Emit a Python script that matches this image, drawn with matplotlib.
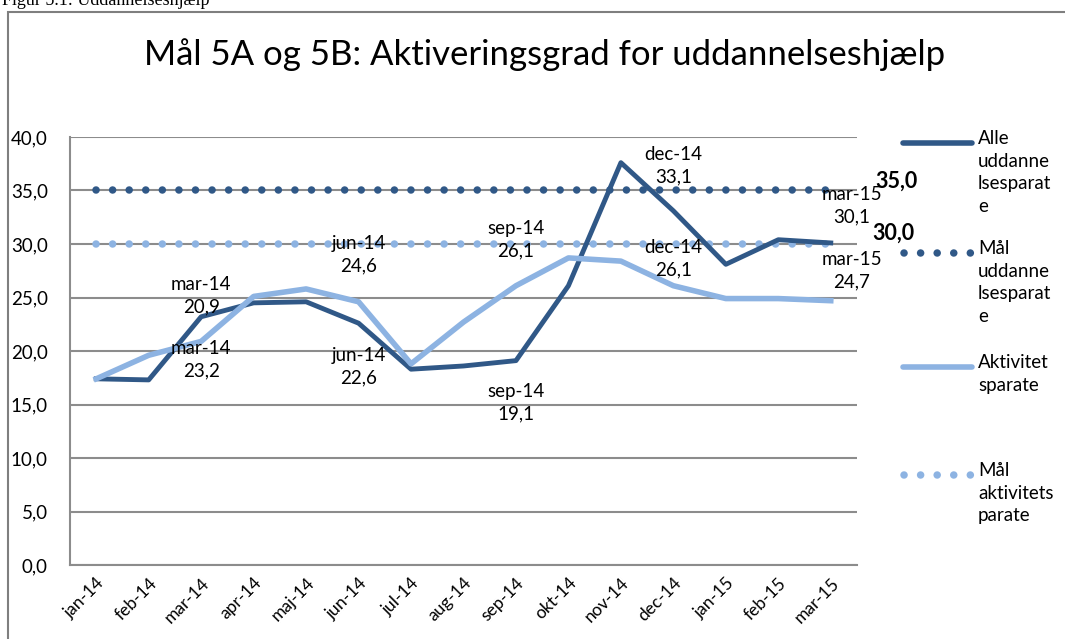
import numpy as np
import matplotlib.pyplot as plt
from matplotlib.lines import Line2D
from matplotlib.patches import Rectangle

# Data
months = ['jan-14', 'feb-14', 'mar-14', 'apr-14', 'maj-14', 'jun-14', 'jul-14',
          'aug-14', 'sep-14', 'okt-14', 'nov-14', 'dec-14', 'jan-15', 'feb-15', 'mar-15']
alle_uddannelsesparate = [17.4, 17.3, 23.2, 24.5, 24.6, 22.6, 18.3, 18.6, 19.1,
                          26.1, 37.6, 33.1, 28.1, 30.4, 30.1]
aktivitetsparate = [17.4, 19.6, 20.9, 25.1, 25.8, 24.6, 18.8, 22.7, 26.1,
                    28.7, 28.4, 26.1, 24.9, 24.9, 24.7]
maal_uddannelsesparate = [35.0] * len(months)
maal_aktivitetsparate = [30.0] * len(months)

series_names = ['Alle\nuddanne\nlsesparat\ne', 'Mål\nuddanne\nlsesparat\ne',
                'Aktivitet\nsparate', 'Mål\naktivitets\nparate']

# labelled points: (index, x offset, y offset in data units)
labels_dark = [(2, 0.0, -4.0), (5, 0.0, -4.1), (8, 0.0, -3.9), (11, 0.0, 4.2), (14, 0.4, 3.5)]
labels_light = [(2, 0.0, 4.3), (5, 0.0, 4.4), (8, 0.0, 4.3), (11, 0.0, 2.5), (14, 0.4, 2.8)]

dark = '#305887'
light = '#8DB3E2'
grid_col = '#8c8c8c'

plt.rcParams['font.family'] = ['Lato', 'DejaVu Sans']

fig = plt.figure(figsize=(10.65, 6.39), dpi=100)
ax = fig.add_axes([70 / 1065, 1 - 565 / 639, 787 / 1065, 428 / 639])

x = np.arange(len(months))


def fmt(v):
    return ('%.1f' % v).replace('.', ',')


dot_style = (0, (0.01, 2.2))
ax.plot(x, maal_uddannelsesparate, color=dark, lw=5.4, linestyle=dot_style,
        dash_capstyle='round', zorder=3)
ax.plot(x, maal_aktivitetsparate, color=light, lw=5.4, linestyle=dot_style,
        dash_capstyle='round', zorder=3)
ax.plot(x, alle_uddannelsesparate, color=dark, lw=3.5, zorder=4, solid_joinstyle='round')
ax.plot(x, aktivitetsparate, color=light, lw=4.0, zorder=4, solid_joinstyle='round')

# data labels
for i, dx, dy in labels_dark:
    ax.text(x[i] + dx, alle_uddannelsesparate[i] + dy,
            '{}\n{}'.format(months[i], fmt(alle_uddannelsesparate[i])),
            ha='center', va='center', fontsize=13.5, linespacing=1.4, zorder=5)
for i, dx, dy in labels_light:
    ax.text(x[i] + dx, aktivitetsparate[i] + dy,
            '{}\n{}'.format(months[i], fmt(aktivitetsparate[i])),
            ha='center', va='center', fontsize=13.5, linespacing=1.4, zorder=5)

ax.text(x[-1] + 1.25, maal_uddannelsesparate[-1] + 0.9, fmt(maal_uddannelsesparate[-1]),
        ha='center', va='center', fontsize=15.5, fontweight='bold', clip_on=False)
ax.text(x[-1] + 1.2, maal_aktivitetsparate[-1] + 1.0, fmt(maal_aktivitetsparate[-1]),
        ha='center', va='center', fontsize=15.5, fontweight='bold', clip_on=False)

ax.set_xlim(-0.5, len(months) - 0.5)
ax.set_ylim(0, 40)
yticks = np.arange(0, 41, 5)
ax.set_yticks(yticks)
ax.set_yticklabels([fmt(v) for v in yticks], fontsize=13.5)
ax.set_xticks(x)
ax.set_xticklabels(months, rotation=45, ha='right', rotation_mode='anchor', fontsize=12.5)
ax.tick_params(length=0)
ax.tick_params(axis='y', pad=16)
ax.tick_params(axis='x', pad=7)
ax.yaxis.grid(True, color=grid_col, lw=1.5)
ax.set_axisbelow(True)
for side in ['top', 'right']:
    ax.spines[side].set_visible(False)
for side in ['left', 'bottom']:
    ax.spines[side].set_color(grid_col)
    ax.spines[side].set_linewidth(1.5)

# title
fig.text(545 / 1065, 1 - 55 / 639, 'Mål 5A og 5B: Aktiveringsgrad for uddannelseshjælp',
         ha='center', va='center', fontsize=25)

# legend drawn by hand, Excel style
leg_y = [143, 253, 367, 475]
leg_colors = [dark, dark, light, light]
leg_dotted = [False, True, False, True]
for name, yy, c, dotted in zip(series_names, leg_y, leg_colors, leg_dotted):
    yf = 1 - yy / 639
    if dotted:
        fig.add_artist(Line2D([904 / 1065, 972 / 1065], [yf, yf], color=c, lw=5.4,
                              linestyle=dot_style, dash_capstyle='round'))
    else:
        fig.add_artist(Line2D([903 / 1065, 972 / 1065], [yf, yf], color=c, lw=4,
                              solid_capstyle='round'))
    fig.text(978 / 1065, 1 - (yy - 13) / 639, name, ha='left', va='top',
             fontsize=13.5, linespacing=1.4)

# outer frame and caption
fig.add_artist(Rectangle((8 / 1065, -0.1), 1.2, 1 - 12 / 639 + 0.1, transform=fig.transFigure,
                         fill=False, edgecolor='#7f7f7f', lw=1.5))
fig.text(2 / 1065, 1 - 5 / 639, 'Figur 5.1: Uddannelseshjælp', ha='left', va='baseline',
         fontsize=13, family='Liberation Serif')

fig.savefig('out.png', dpi=100)
